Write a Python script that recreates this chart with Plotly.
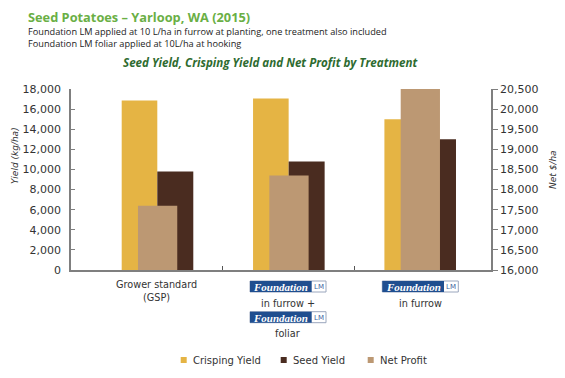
import plotly.graph_objects as go

# ---- data ----
treatments = ["Grower standard (GSP)", "Foundation LM in furrow + Foundation LM foliar", "Foundation LM in furrow"]
x_index = [0, 1, 2]
crisping_yield = [16850, 17050, 15000]
seed_yield = [9800, 10800, 13000]
net_profit = [17600, 18350, 20500]
left_ticks = list(range(0, 18001, 2000))
right_ticks = list(range(16000, 20501, 500))

C_CRISP = "#E5B444"
C_SEED = "#4A2C20"
C_NET = "#BC9873"
AX = "#7f7f7f"
TXT = "#333333"
FONT = "DejaVu Sans"

OFF = 8  # page body margin
W, H = 565 - OFF, 378 - OFF
L, R, T, B = 71 - OFF, 491 - OFF, 89 - OFF, 270 - OFF


def xp(px):
    return (px - OFF - L) / (R - L)


def yp(py):
    return (B - (py - OFF)) / (B - T)


fig = go.Figure()
fig.add_trace(go.Bar(x=x_index, y=crisping_yield, name="Crisping Yield", marker_color=C_CRISP,
                     offset=-0.271, width=0.271, marker_line_width=0, yaxis="y"))
fig.add_trace(go.Bar(x=x_index, y=seed_yield, name="Seed Yield", marker_color=C_SEED,
                     offset=0.0, width=0.274, marker_line_width=0, yaxis="y"))
fig.add_trace(go.Bar(x=x_index, y=net_profit, name="Net Profit", marker_color=C_NET,
                     offset=-0.147, width=0.299, marker_line_width=0, yaxis="y2"))

fig.update_layout(
    width=W, height=H,
    margin=dict(l=L, r=W - R, t=T, b=H - B, pad=0),
    paper_bgcolor="white", plot_bgcolor="white",
    barmode="overlay",
    showlegend=False,
    font=dict(family=FONT, color=TXT, size=10),
    xaxis=dict(range=[-0.657, 2.5405], showgrid=False, zeroline=False, showline=True,
               linecolor=AX, linewidth=1.5, ticks="inside", ticklen=4, tickcolor="#555",
               tickvals=[0.5, 1.5], showticklabels=False),
    yaxis=dict(range=[0, 18000], tickvals=left_ticks, tickformat=",", showgrid=False,
               zeroline=False, showline=True, linecolor=AX, linewidth=1.5,
               ticks="inside", ticklen=4, tickcolor=AX,
               tickfont=dict(size=11, color=TXT), ticklabelstandoff=6),
    yaxis2=dict(range=[16000, 20500], tickvals=right_ticks, tickformat=",", overlaying="y",
                side="right", showgrid=False, zeroline=False, showline=True, linecolor=AX,
                linewidth=1.5, ticks="outside", ticklen=5, tickcolor=AX,
                tickfont=dict(size=11, color=TXT)),
)

ann = []
shapes = []


def text(px, py, s, size=10, color=TXT, xanchor="center", family=FONT, angle=0, align="center"):
    ann.append(dict(x=xp(px), y=yp(py), xref="paper", yref="paper", text=s, showarrow=False,
                    xanchor=xanchor, yanchor="middle", textangle=angle, borderpad=0,
                    align=align, font=dict(size=size, color=color, family=family)))


# header (one block: title + two description lines)
header = ('<span style="font-size:12.8px;color:#6AAF45"><b>Seed Potatoes – Yarloop, WA (2015)</b></span>'
          '<br><span style="font-size:9.2px">Foundation LM applied at 10 L/ha in furrow at planting, one treatment also included</span>'
          '<br><span style="font-size:9.2px">Foundation LM foliar applied at 10L/ha at hooking</span>')
text(27, 28.8, header, size=9.8, color="#222222", xanchor="left", family="Open Sans", align="left")
text(270, 63, "<b><i>Seed Yield, Crisping Yield and Net Profit by Treatment</i></b>", size=11.6,
     color="#2E6B30", family="Open Sans")

# axis titles
text(15, 156, "<i>Yield (kg/ha)</i>", size=9, angle=-90)
text(553, 170, "<i>Net $/ha</i>", size=9, angle=-90)

# category labels
text(156.7, 290.5, "Grower standard<br>(GSP)", size=9.7)
text(287.7, 303, "in furrow +", size=9.7)
text(287.7, 333, "foliar", size=9.7)
text(420.3, 303, "in furrow", size=9.7)


def logo(x0, y0):
    x1, y1 = x0 + 76, y0 + 11
    xm = x0 + 61.7
    shapes.append(dict(type="rect", xref="paper", yref="paper", x0=xp(x0), x1=xp(x1),
                       y0=yp(y1), y1=yp(y0), fillcolor="white",
                       line=dict(color="#9aa6bd", width=1)))
    shapes.append(dict(type="rect", xref="paper", yref="paper", x0=xp(x0), x1=xp(xm),
                       y0=yp(y1), y1=yp(y0), fillcolor="#1F4E8F", line=dict(width=0)))
    text((x0 + xm) / 2, y0 + 5.8, "<b><i>Foundation</i></b>", size=11, color="white",
         family="Liberation Serif")
    text((xm + x1) / 2, y0 + 5.8, "LM", size=7, color="#3a5f9e")


logo(250, 281)
logo(250, 311.7)
logo(382.3, 281)

# legend
for sx, col, label in [(180.7, C_CRISP, "Crisping Yield"), (280.7, C_SEED, "Seed Yield"),
                       (367.7, C_NET, "Net Profit")]:
    shapes.append(dict(type="rect", xref="paper", yref="paper", x0=xp(sx), x1=xp(sx + 6),
                       y0=yp(363), y1=yp(357), fillcolor=col, line=dict(width=0)))
    text(sx + 11, 360, label, size=10, xanchor="left")

fig.update_layout(annotations=ann, shapes=shapes)
fig.write_html("out.html")
